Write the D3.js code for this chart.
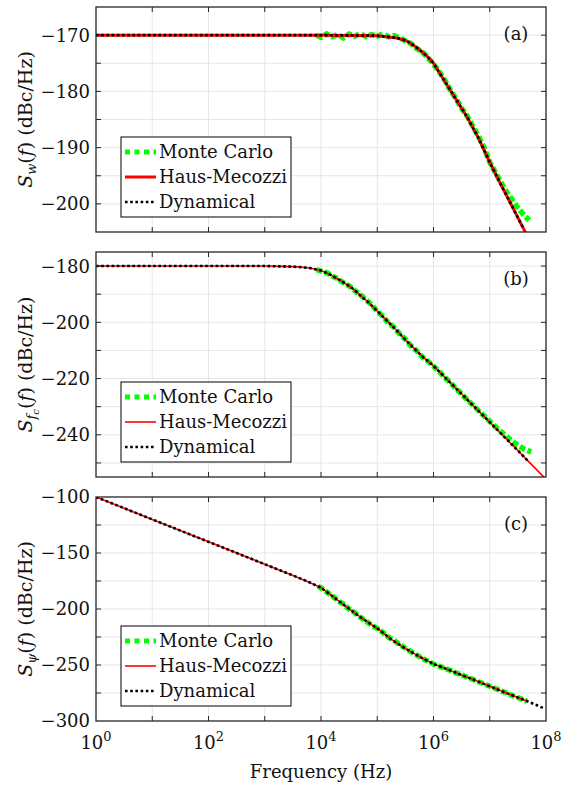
<!DOCTYPE html>
<html>
<head>
<meta charset="utf-8">
<script src="https://cdn.jsdelivr.net/npm/d3@7"></script>
<style>
    body { margin: 0; background: #fff; }
    text { font-family: "DejaVu Serif", serif; fill: #111; }
</style>
</head>
<body>
<svg id="SVG_CONTAINER" width="575" height="788"></svg>
<script>
// frequencies are given as log10(f / Hz)

// (a) frequency noise S_w
const hausExA = [0, 1, 2, 3, 4, 5, 5.35, 5.52, 5.7, 5.88, 6.0, 6.2, 6.4, 6.6, 6.8, 7.0, 7.2, 7.4, 7.6, 7.8];
const hausValA = [-170, -170, -170, -170, -170, -170.1, -170.5, -171, -172.2, -173.7, -175, -178.2, -181.4, -184.6, -188.3, -192.6, -196.6, -200.5, -204.4, -208.2];
const dynExA = [0, 1, 2, 3, 4, 5, 5.35, 5.52, 5.7, 5.88, 6.0, 6.2, 6.4, 6.6, 6.8, 7.0, 7.2, 7.4, 7.6];
const dynValA = [-170, -170, -170, -170, -170, -170.1, -170.5, -171, -172.2, -173.7, -175, -178.2, -181.4, -184.6, -188.3, -192.6, -196.6, -200.5, -204.4];
const mcExA = [3.92, 4.0, 4.1, 4.2, 4.3, 4.4, 4.5, 4.6, 4.7, 4.8, 4.9, 5.0, 5.1, 5.2, 5.3, 5.4, 5.5, 5.6, 5.7, 5.8,
    5.9, 6.0, 6.1, 6.2, 6.3, 6.4, 6.5, 6.6, 6.7, 6.8, 6.9, 7.0, 7.1, 7.2, 7.3, 7.4, 7.5, 7.6, 7.7];
const mcValA = [-170.0, -170.4, -169.8, -170.3, -169.9, -170.5, -169.8, -170.2, -169.7, -170.3, -169.9, -170.2, -169.8, -170.3, -170.1, -170.5, -171.0, -171.5, -172.4, -173.0,
    -174.0, -175.2, -176.5, -178.0, -179.8, -181.3, -183.0, -184.4, -186.2, -188.0, -190.0, -192.6, -194.4, -196.2, -197.9, -199.3, -200.7, -201.9, -202.9];

// (b) S_fc
const hausExB = [0, 3, 3.3, 3.6, 3.8, 4.0, 4.16, 4.37, 4.55, 4.72, 4.87, 5.05, 5.2, 5.35, 5.49, 5.64, 5.82, 6.0, 6.5, 7.0, 7.5, 8.0];
const hausValB = [-180, -180, -180.1, -180.3, -180.7, -181.6, -183, -185.4, -187.8, -190.8, -193.4, -197, -200, -203, -206, -209, -212.5, -215.5, -225.5, -235.5, -245.6, -255.8];
const dynExB = [0, 3, 3.3, 3.6, 3.8, 4.0, 4.16, 4.37, 4.55, 4.72, 4.87, 5.05, 5.2, 5.35, 5.49, 5.64, 5.82, 6.0, 6.5, 7.0, 7.5, 7.7];
const dynValB = [-180, -180, -180.1, -180.3, -180.7, -181.6, -183, -185.4, -187.8, -190.8, -193.4, -197, -200, -203, -206, -209, -212.5, -215.5, -225.5, -235.5, -245.6, -249.7];
const mcExB = [3.92, 4.0, 4.1, 4.2, 4.3, 4.4, 4.5, 4.6, 4.7, 4.8, 4.9, 5.0, 5.1, 5.2, 5.3, 5.4, 5.5, 5.6, 5.7, 5.8,
    5.9, 6.0, 6.1, 6.2, 6.3, 6.4, 6.5, 6.6, 6.7, 6.8, 6.9, 7.0, 7.1, 7.2, 7.3, 7.4, 7.5, 7.6, 7.7, 7.74];
const mcValB = [-181.3, -181.8, -182.3, -183.6, -184.5, -186.0, -187.0, -188.7, -190.2, -192.0, -193.7, -196.2, -197.8, -200.3, -201.8, -204.2, -206.0, -208.4, -210.1, -212.3,
    -213.8, -215.6, -217.4, -219.6, -221.4, -223.6, -225.4, -227.6, -229.4, -231.4, -233.3, -235.2, -237.1, -238.9, -240.6, -242.3, -243.7, -245.0, -245.8, -246.0];

// (c) S_psi
const hausExC = [0, 1, 2, 3, 3.5, 3.8, 4.0, 4.15, 4.3, 4.5, 4.75, 5.05, 5.23, 5.46, 5.64, 5.82, 6.0, 6.23, 6.53, 6.83, 7.12, 7.42, 7.66];
const hausValC = [-100, -120, -140, -160, -170, -176.3, -181, -186.5, -192.3, -199.8, -209, -219, -226.5, -234, -239.4, -244.5, -249, -253.5, -259.5, -265.5, -271.5, -277.5, -282.2];
const dynExC = [0, 1, 2, 3, 3.5, 3.8, 4.0, 4.15, 4.3, 4.5, 4.75, 5.05, 5.23, 5.46, 5.64, 5.82, 6.0, 6.23, 6.53, 6.83, 7.12, 7.42, 7.66, 7.95];
const dynValC = [-100, -120, -140, -160, -170, -176.3, -181, -186.5, -192.3, -199.8, -209, -219, -226.5, -234, -239.4, -244.5, -249, -253.5, -259.5, -265.5, -271.5, -277.5, -282.2, -288.4];
const mcExC = [3.95, 4.0, 4.1, 4.2, 4.3, 4.4, 4.5, 4.6, 4.7, 4.8, 4.9, 5.0, 5.1, 5.2, 5.3, 5.4, 5.5, 5.6, 5.7, 5.8,
    5.9, 6.0, 6.1, 6.2, 6.3, 6.4, 6.5, 6.6, 6.7, 6.8, 6.9, 7.0, 7.1, 7.2, 7.3, 7.4, 7.5, 7.6, 7.66];
const mcValC = [-179.8, -181.2, -184.8, -188.2, -192.6, -195.6, -200.0, -203.4, -207.4, -210.8, -214.6, -217.2, -221.0, -225.2, -228.0, -231.8, -235.0, -238.0, -241.0, -244.2,
    -246.4, -249.2, -251.0, -253.0, -254.8, -257.0, -258.8, -260.9, -262.8, -265.0, -266.8, -269.0, -271.0, -273.2, -275.0, -277.2, -279.0, -281.2, -282.2];

const xTickExps = [0, 1, 2, 3, 4, 5, 6, 7, 8];
const xLabelExps = [0, 2, 4, 6, 8];
const legendNames = ["Monte Carlo", "Haus-Mecozzi", "Dynamical"];
const panelTags = ["(a)", "(b)", "(c)"];

const width = 575, height = 788;
const LEFT = 96, RIGHT = 546;
const FS = "18px";

const svg = d3.select("#SVG_CONTAINER");

const xScale = d3.scaleLog()
    .domain([1, 1e8])
    .range([LEFT, RIGHT]);

const panels = [
    { top: 7, bottom: 232, domain: [-205, -165], step: 5, labelStep: 10, legendTop: 137, redW: 3,
      mc: [mcExA, mcValA], haus: [hausExA, hausValA], dyn: [dynExA, dynValA], sub: "w" },
    { top: 252, bottom: 477, domain: [-255, -175], step: 10, labelStep: 20, legendTop: 382, redW: 1.6,
      mc: [mcExB, mcValB], haus: [hausExB, hausValB], dyn: [dynExB, dynValB], sub: "fc" },
    { top: 497, bottom: 721, domain: [-300, -100], step: 25, labelStep: 50, legendTop: 626, redW: 1.6,
      mc: [mcExC, mcValC], haus: [hausExC, hausValC], dyn: [dynExC, dynValC], sub: "ψ" }
];

const GREEN = "#00ff00", RED = "#ff0000";

panels.forEach(function (p, i) {
    let g = svg.append("g").attr("class", "panel" + i);
    let yScale = d3.scaleLinear().domain(p.domain).range([p.bottom, p.top]);
    let yTicks = d3.range(Math.ceil(p.domain[0] / p.step) * p.step, p.domain[1] + 0.01, p.step);
    let innerY = yTicks.filter(v => v > p.domain[0] && v < p.domain[1]);
    let innerX = xTickExps.slice(1, -1);

    // clip
    svg.append("clipPath").attr("id", "clip" + i)
        .append("rect")
        .attr("x", LEFT).attr("y", p.top)
        .attr("width", RIGHT - LEFT).attr("height", p.bottom - p.top);

    //** GRID *****************************************
    g.selectAll(".vgrid").data(innerX).enter()
        .append("line")
        .attr("x1", d => xScale(Math.pow(10, d))).attr("x2", d => xScale(Math.pow(10, d)))
        .attr("y1", p.top).attr("y2", p.bottom)
        .attr("stroke", "#e6e6e6").attr("stroke-width", 1);
    g.selectAll(".hgrid").data(innerY).enter()
        .append("line")
        .attr("x1", LEFT).attr("x2", RIGHT)
        .attr("y1", d => yScale(d)).attr("y2", d => yScale(d))
        .attr("stroke", "#e6e6e6").attr("stroke-width", 1);

    //** LINES *****************************************
    let line = d3.line()
        .x(d => xScale(Math.pow(10, d[0])))
        .y(d => yScale(d[1]));
    let lines = g.append("g").attr("clip-path", "url(#clip" + i + ")");
    lines.append("path")
        .datum(d3.zip(p.mc[0], p.mc[1]))
        .attr("d", line)
        .attr("fill", "none").attr("stroke", GREEN)
        .attr("stroke-width", 5.5).attr("stroke-dasharray", "6,2.5");
    lines.append("path")
        .datum(d3.zip(p.haus[0], p.haus[1]))
        .attr("d", line)
        .attr("fill", "none").attr("stroke", RED)
        .attr("stroke-width", p.redW);
    lines.append("path")
        .datum(d3.zip(p.dyn[0], p.dyn[1]))
        .attr("d", line)
        .attr("fill", "none").attr("stroke", "#000")
        .attr("stroke-width", 2.6).attr("stroke-dasharray", "2.6,2.6");

    //** AXES *****************************************
    let axisCol = "#262626";
    let tl = 5;
    let ax = g.append("g").attr("class", "axes");
    innerY.forEach(function (v) {
        ax.append("line").attr("x1", LEFT).attr("x2", LEFT + tl)
            .attr("y1", yScale(v)).attr("y2", yScale(v)).attr("stroke", axisCol);
        ax.append("line").attr("x1", RIGHT - tl).attr("x2", RIGHT)
            .attr("y1", yScale(v)).attr("y2", yScale(v)).attr("stroke", axisCol);
    });
    innerX.forEach(function (e) {
        let x = xScale(Math.pow(10, e));
        ax.append("line").attr("x1", x).attr("x2", x)
            .attr("y1", p.bottom).attr("y2", p.bottom - tl).attr("stroke", axisCol);
        ax.append("line").attr("x1", x).attr("x2", x)
            .attr("y1", p.top).attr("y2", p.top + tl).attr("stroke", axisCol);
    });
    ax.append("rect")
        .attr("x", LEFT).attr("y", p.top)
        .attr("width", RIGHT - LEFT).attr("height", p.bottom - p.top)
        .attr("fill", "none").attr("stroke", axisCol).attr("stroke-width", 1.3);

    // y tick labels
    g.selectAll(".ylab").data(yTicks.filter(v => v % p.labelStep === 0)).enter()
        .append("text")
        .attr("x", LEFT - 6)
        .attr("y", d => yScale(d))
        .attr("dy", "0.36em")
        .attr("text-anchor", "end")
        .style("font-size", FS)
        .text(d => d3.format("d")(d));

    // y axis label
    let yl = g.append("text")
        .attr("transform", "translate(32," + ((p.top + p.bottom) / 2) + ") rotate(-90)")
        .attr("text-anchor", "middle")
        .style("font-size", "19px");
    yl.append("tspan").style("font-style", "italic").text("S");
    if (p.sub === "fc") {
        yl.append("tspan").style("font-style", "italic").style("font-size", "13px").attr("dy", 4).text("f");
        yl.append("tspan").style("font-style", "italic").style("font-size", "10px").attr("dy", 3).text("c");
        yl.append("tspan").attr("dy", -7).text("(");
    } else {
        yl.append("tspan").style("font-style", "italic").style("font-size", "13px").attr("dy", 4).text(p.sub);
        yl.append("tspan").attr("dy", -4).text("(");
    }
    yl.append("tspan").style("font-style", "italic").text("f");
    yl.append("tspan").text(") (dBc/Hz)");

    // panel tag
    g.append("text")
        .attr("x", 516).attr("y", p.top + 33)
        .attr("text-anchor", "middle")
        .style("font-size", FS)
        .text(panelTags[i]);

    //** LEGEND *****************************************
    let lg = g.append("g").attr("class", "legend");
    lg.append("rect")
        .attr("x", 121).attr("y", p.legendTop)
        .attr("width", 170).attr("height", 80)
        .attr("fill", "#fff").attr("stroke", "#000").attr("stroke-width", 1);
    let styles = [
        { c: GREEN, w: 5, dash: "5,4.5" },
        { c: RED, w: p.redW, dash: null },
        { c: "#000", w: 2.6, dash: "2.6,2.6" }
    ];
    legendNames.forEach(function (name, k) {
        let ly = p.legendTop + 15 + k * 25;
        lg.append("line")
            .attr("x1", 125).attr("x2", 156)
            .attr("y1", ly).attr("y2", ly)
            .attr("stroke", styles[k].c)
            .attr("stroke-width", styles[k].w)
            .attr("stroke-dasharray", styles[k].dash);
        lg.append("text")
            .attr("x", 159).attr("y", ly)
            .attr("dy", "0.36em")
            .style("font-size", FS)
            .text(name);
    });

    // x tick labels only on bottom panel
    if (i === panels.length - 1) {
        xLabelExps.forEach(function (e) {
            let t = g.append("text")
                .attr("x", xScale(Math.pow(10, e)))
                .attr("y", p.bottom + 28)
                .attr("text-anchor", "middle")
                .style("font-size", FS);
            t.append("tspan").text("10");
            t.append("tspan").attr("dy", -8).style("font-size", "13px").text(e);
        });
        g.append("text")
            .attr("x", (LEFT + RIGHT) / 2)
            .attr("y", p.bottom + 57)
            .attr("text-anchor", "middle")
            .style("font-size", FS)
            .text("Frequency (Hz)");
    }
});
</script>
</body>
</html>
